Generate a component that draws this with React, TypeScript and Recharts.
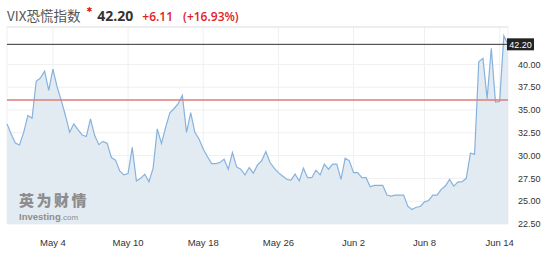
import React from "react";
import {
  ComposedChart,
  Area,
  XAxis,
  YAxis,
  CartesianGrid,
  ReferenceLine,
} from "recharts";

// VIX 走势（按交易时段取样）
const VIX_VALUES = [
  33.48, 32.37, 31.38, 31.16, 32.55, 34.4, 34.1, 38.15, 38.5, 39.26,
  37.16, 39.48, 37.53, 36.05, 34.4, 32.55, 33.48, 32.85, 32.26, 32.1,
  34.03, 32.2, 31.2, 31.56, 31.34, 29.79, 29.5, 28.32, 27.88, 28.02,
  30.9, 27.22, 27.51, 27.96, 27.14, 28.62, 32.93, 31.34, 33.1, 34.7,
  35.14, 35.69, 36.6, 32.55, 34.7, 32.55, 31.82, 30.72, 29.9, 29.13,
  29.13, 29.24, 29.61, 28.51, 30.34, 28.76, 28.51, 27.88, 28.69, 28.07,
  28.98, 29.43, 30.45, 29.24, 28.62, 28.13, 27.77, 27.4, 27.29, 27.96,
  27.22, 28.62, 27.58, 27.58, 28.4, 27.88, 29.06, 28.51, 29.06, 29.06,
  27.4, 29.72, 29.43, 28.13, 28.13, 27.58, 27.58, 26.59, 26.74, 26.74,
  26.74, 25.67, 25.56, 25.67, 25.67, 25.67, 24.45, 24.09, 24.34, 24.42,
  24.93, 25.08, 25.67, 25.67, 26.3, 26.66, 27.4, 26.66, 27.1, 27.14,
  27.51, 30.27, 30.16, 40.29, 40.66, 36.24, 41.77, 35.87, 35.94, 43.13,
  42.2,
];

const X_TICK_INDEX = [11, 29, 47, 65, 83, 100, 118];
const X_TICK_LABELS = ["May 4", "May 10", "May 18", "May 26", "Jun 2", "Jun 8", "Jun 14"];
const Y_TICKS = [22.5, 25, 27.5, 30, 32.5, 35, 37.5, 40];

const LAST = 42.2;
const PREV_CLOSE = 36.09;
const CHANGE = "+6.11";
const CHANGE_PCT = "(+16.93%)";

const data = VIX_VALUES.map((v, i) => ({ i, v }));

const RED = "#e3211c";
const TOP = 44.1;

function PriceTag(props: any) {
  const { x, y, width } = props.viewBox;
  return (
    <g>
      <rect x={x + width - 1} y={y - 6} width={27} height={12} fill="#222" />
      <text
        x={x + width + 12.5}
        y={y + 3.5}
        fill="#fff"
        fontSize={9}
        textAnchor="middle"
        fontFamily="'Liberation Sans', Arial, sans-serif"
      >
        {LAST.toFixed(2)}
      </text>
    </g>
  );
}

export default function App() {
  return (
    <div
      style={{
        position: "absolute",
        left: 0,
        top: 0,
        width: 554,
        height: 262,
        background: "#fff",
        overflow: "hidden",
      }}
    >
      {/* 标题行 */}
      <div
        style={{
          position: "absolute",
          left: 7,
          top: 5,
          whiteSpace: "nowrap",
          display: "flex",
          alignItems: "baseline",
        }}
      >
        <span
          style={{
            fontFamily: "'Noto Sans CJK SC', sans-serif",
            fontSize: 13.5,
            color: "#555",
          }}
        >
          VIX恐慌指数
        </span>
        <span
          style={{
            position: "relative",
            top: -9,
            marginLeft: 6,
            color: RED,
            fontSize: 7,
            fontFamily: "'DejaVu Sans', sans-serif",
          }}
        >
          ✱
        </span>
        <span
          style={{
            marginLeft: 5,
            fontFamily: "'Open Sans', sans-serif",
            fontWeight: 700,
            fontSize: 14,
            color: "#333",
          }}
        >
          {LAST.toFixed(2)}
        </span>
        <span
          style={{
            marginLeft: 9,
            fontFamily: "'Open Sans', sans-serif",
            fontWeight: 600,
            fontSize: 12,
            color: RED,
          }}
        >
          {CHANGE}
        </span>
        <span
          style={{
            marginLeft: 10,
            fontFamily: "'Open Sans', sans-serif",
            fontWeight: 600,
            fontSize: 12,
            color: RED,
          }}
        >
          {CHANGE_PCT}
        </span>
      </div>

      <div style={{ position: "absolute", left: 0, top: 0 }}>
        <ComposedChart
          width={554}
          height={262}
          data={data}
          margin={{ top: 27, right: 0, left: 7, bottom: 8 }}
        >
          <CartesianGrid stroke="#f0f0f0" />
          <XAxis
            type="number"
            dataKey="i"
            domain={[0, VIX_VALUES.length - 1]}
            ticks={X_TICK_INDEX}
            tickFormatter={(v: number) => X_TICK_LABELS[X_TICK_INDEX.indexOf(v)]}
            axisLine={false}
            tickLine={false}
            tickMargin={9}
            height={30}
            interval={0}
            tick={{ fill: "#333", fontSize: 9.5, fontFamily: "'Liberation Sans', Arial, sans-serif" }}
          />
          <YAxis
            orientation="right"
            domain={[22.5, TOP]}
            ticks={Y_TICKS}
            tickFormatter={(v: number) => v.toFixed(2)}
            axisLine={false}
            tickLine={false}
            tickMargin={4}
            width={46}
            interval={0}
            tick={{ fill: "#333", fontSize: 9, fontFamily: "'Liberation Sans', Arial, sans-serif", textAnchor: "start" }}
          />
          <ReferenceLine y={TOP} stroke="#e4e4e4" />
          <Area
            type="linear"
            dataKey="v"
            stroke="#86b2de"
            strokeWidth={1.2}
            fill="#e3ebf2"
            fillOpacity={1}
            isAnimationActive={false}
            dot={false}
            activeDot={false}
          />
          <ReferenceLine y={PREV_CLOSE} stroke="#e07a7a" strokeWidth={1.5} />
          <ReferenceLine y={LAST} stroke="#333" strokeWidth={1} label={<PriceTag />} />
        </ComposedChart>
      </div>

      {/* 水印 */}
      <div
        style={{
          position: "absolute",
          left: 19,
          top: 189,
          color: "#8d8d8d",
          whiteSpace: "nowrap",
          fontFamily: "'Noto Sans CJK SC', sans-serif",
          fontWeight: 900,
          fontSize: 15,
          letterSpacing: 2.5,
        }}
      >
        英为财情
      </div>
      <div
        style={{
          position: "absolute",
          left: 19,
          top: 211,
          color: "#8d8d8d",
          whiteSpace: "nowrap",
          fontFamily: "'Liberation Sans', Arial, sans-serif",
          fontSize: 9.5,
          fontWeight: 700,
        }}
      >
        Investing<span style={{ fontWeight: 400, fontSize: 8 }}>.com</span>
      </div>
    </div>
  );
}
